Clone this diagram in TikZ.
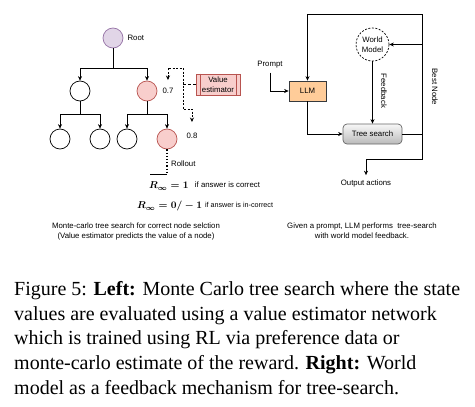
\documentclass[tikz,border=0pt]{standalone}
\usepackage{fontspec,amsmath}
\setmainfont{Liberation Serif}
\newfontfamily\dgfont{Liberation Sans}
\usetikzlibrary{arrows.meta,positioning,calc}
\definecolor{lav}{HTML}{E1D5E7}
\definecolor{lavd}{HTML}{9673A6}
\definecolor{pk}{HTML}{F8CECC}
\definecolor{pkd}{HTML}{B85450}
\definecolor{org}{HTML}{FFCC99}
\definecolor{gr}{HTML}{666666}
\definecolor{dk}{HTML}{36393D}
\tikzset{
  st/.style={circle,draw,line width=0.7pt,minimum size=20pt,inner sep=0pt},
  rootst/.style={st,draw=lavd,fill=lav},
  hot/.style={st,draw=pkd,fill=pk},
  lbl/.style={inner sep=1pt,font=\dgfont\fontsize{7.8}{10}\selectfont},
  small/.style={lbl,font=\dgfont\fontsize{7.2}{10}\selectfont},
  eqn/.style={anchor=west,inner sep=0pt,font=\fontsize{9.6}{11}\selectfont},
  blk/.style={lbl,draw,line width=0.7pt,align=center},
  ar/.style={-{Stealth[length=4.5pt,width=4pt]},line width=0.7pt},
  dar/.style={{Stealth[length=4.5pt,width=4pt]}-{Stealth[length=4.5pt,width=4pt]},line width=0.7pt,dash pattern=on 2pt off 1.5pt},
  dotl/.style={line width=1.2pt,dash pattern=on 1.2pt off 2pt},
}
\newcommand{\rinf}[1]{$\boldsymbol{R_{\infty}=#1}$}
\begin{document}
\begin{tikzpicture}[x=1pt,y=-1pt]
\useasboundingbox (0,0) rectangle (475,407);
% left: tree search with value estimator
\node[rootst] (root) at (113,38) {};
\node[st] (c1) at (80,91) {};
\node[hot] (c2) at (147,91) {};
\node[st] (g1) at (60,139) {};
\node[st] (g2) at (100,139) {};
\node[st] (g3) at (127,139) {};
\node[hot] (g4) at (167,139) {};
\node[lbl,right=3pt of root] (lroot) {Root};
\node[lbl,right=4pt of c2] (l07) {0.7};
\node[lbl,right=8pt of g4,yshift=3pt] (l08) {0.8};
\foreach \p/\c/\h in {root/c1/20,root/c2/20,c1/g1/13,c1/g2/13,c2/g3/13,c2/g4/13}
  \draw[ar] (\p.south) -- ++(0,\h) -| (\c.north);
\node[blk,draw=pkd,fill=pk,minimum width=44pt,minimum height=21pt] (val) at (218,84.5) {Value\\estimator};
\draw[pkd,line width=0.7pt] ([xshift=5pt]val.north west) -- ([xshift=5pt]val.south west);
\draw[pkd,line width=0.7pt] ([xshift=-4pt]val.north east) -- ([xshift=-4pt]val.south east);
\coordinate (vt) at (183,68);
\coordinate (vb) at (183,109);
\coordinate (vj) at (183,84.5);
\draw[dar] ([yshift=7pt]l07.north) |- (vt) -- (vb) -| ([yshift=10pt]l08.north);
\draw[line width=0.7pt,dash pattern=on 3pt off 2pt] (val.west) -- (vj);
\coordinate (ro) at (167,174);
\draw[dotl] (g4.south) -- (ro);
\draw[line width=0.7pt] (ro) -- ++(-17,0);
\node[lbl,anchor=west] (lro) at (170,164) {Rollout};
\node[eqn] (eq1) at (149,186) {\rinf{1}};
\node[lbl,right=5pt of eq1,yshift=1pt] (eq1t) {if answer is correct};
\node[eqn] (eq2) at (137,206) {\rinf{0/-1}};
\node[small,right=1.5pt of eq2,yshift=1pt] (eq2t) {if answer is in-correct};
\node[lbl,align=center] (capl) at (136,231) {Monte-carlo tree search for correct node selction\\(Value estimator predicts the value of a node)};
% right: world model feedback
\node[blk,draw=dk,fill=org,minimum width=37pt,minimum height=20pt] (llm) at (307.5,91) {LLM};
\node[blk,draw=gr,rounded corners=4pt,top color=black!3,bottom color=black!27,minimum width=59pt,minimum height=20pt] (ts) at (372.5,134) {Tree search};
\node[blk,circle,dash pattern=on 2pt off 1.5pt,minimum size=33pt,inner sep=0pt] (wm) at (372.5,44.5) {World\\Model};
\node[lbl] (prompt) at (270,65) {Prompt};
\node[lbl] (out) at (366,183) {Output actions};
\node[lbl,rotate=-90] (fb) at (384,91) {Feedback};
\node[lbl,rotate=-90] (bn) at (435,87) {Best Node};
\coordinate (tr) at (422,14);
\coordinate (ob) at (422,159);
\draw[ar,shorten <=3pt] (prompt.south) |- (llm.west);
\draw[ar] (llm.south) |- (ts.west);
\draw[ar] (wm.south) -- (ts.north);
\draw[ar] (ts.east) -| (tr) -| (llm.north);
\draw[ar] (tr |- wm) -- (wm.east);
\draw[ar,shorten >=3pt] (ts.east) -| (ob) -| (out.north);
\node[lbl,align=center] (capr) at (362,231) {Given a prompt, LLM performs\ \ tree-search\\with world model feedback.};
% caption
\node[anchor=north west,inner sep=0pt,align=left,font=\fontsize{20}{24.8}\selectfont] (cap) at (14,281) {Figure 5: \textbf{Left:} Monte Carlo tree search where the state\\values are evaluated using a value estimator network\\which is trained using RL via preference data or\\monte-carlo estimate of the reward. \textbf{Right:} World\\model as a feedback mechanism for tree-search.};
\end{tikzpicture}
\end{document}
